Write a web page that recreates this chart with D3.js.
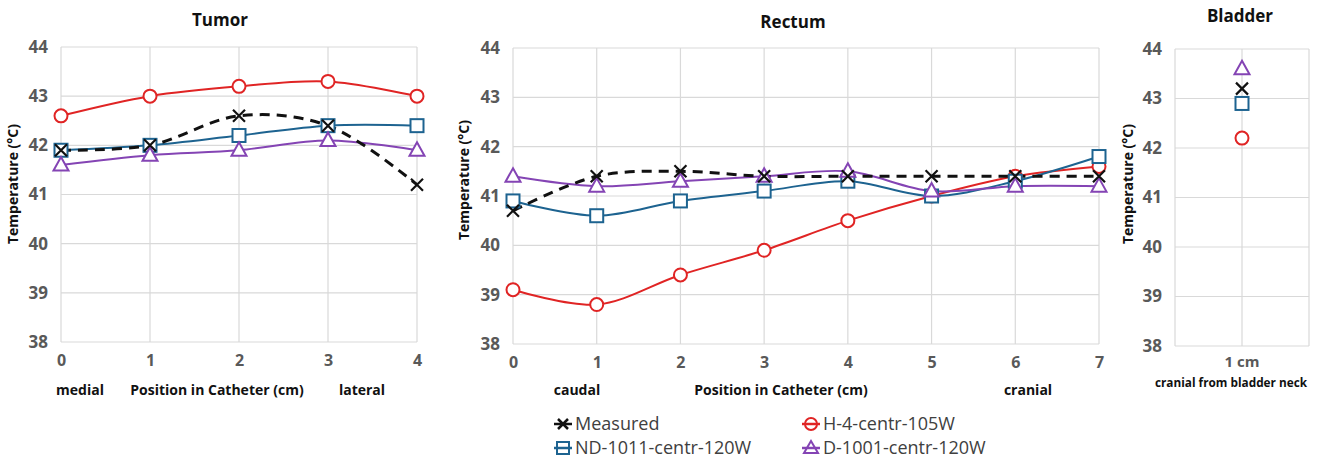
<!DOCTYPE html>
<html><head><meta charset="utf-8">
<script src="https://cdn.jsdelivr.net/npm/d3@7"></script>
<style>
body{margin:0;background:#fff;}
text{font-family:"Open Sans","Noto Sans",sans-serif;}
</style></head><body>
<svg id="c" width="1319" height="459"></svg>
<script>
const yTicks=[38,39,40,41,42,43,44];
const tumorX=[0,1,2,3,4];
const tumorMeasured=[41.9,42.0,42.6,42.4,41.2];
const tumorH4=[42.6,43.0,43.2,43.3,43.0];
const tumorND=[41.9,42.0,42.2,42.4,42.4];
const tumorD=[41.6,41.8,41.9,42.1,41.9];
const rectumX=[0,1,2,3,4,5,6,7];
const rectumMeasured=[40.7,41.4,41.5,41.4,41.4,41.4,41.4,41.4];
const rectumH4=[39.1,38.8,39.4,39.9,40.5,41.0,41.4,41.6];
const rectumND=[40.9,40.6,40.9,41.1,41.3,41.0,41.3,41.8];
const rectumD=[41.4,41.2,41.3,41.4,41.5,41.1,41.2,41.2];
const bladderCat=["1 cm"];
const bladderMeasured=[43.2];
const bladderH4=[42.2];
const bladderND=[42.9];
const bladderD=[43.6];
const seriesNames=["Measured","H-4-centr-105W","ND-1011-centr-120W","D-1001-centr-120W"];

const COL={m:"#111111",h:"#e02424",n:"#1d6390",d:"#8444b4"};
const svg=d3.select("#c");
const grid="#d9d9d9", tickCol="#595959";

function marker(g,type,x,y,col){
  if(type==="m"){
    const s=6;
    g.append("path").attr("d",`M${x-s},${y-s}L${x+s},${y+s}M${x-s},${y+s}L${x+s},${y-s}`)
      .attr("stroke",col).attr("stroke-width",2.2).attr("fill","none");
  } else if(type==="h"){
    g.append("circle").attr("cx",x).attr("cy",y).attr("r",6.5).attr("fill","#fff").attr("stroke",col).attr("stroke-width",2);
  } else if(type==="n"){
    g.append("rect").attr("x",x-6.5).attr("y",y-6.5).attr("width",13).attr("height",13).attr("fill","#fff").attr("stroke",col).attr("stroke-width",2);
  } else {
    g.append("path").attr("d",`M${x},${y-8}L${x+7.5},${y+5.5}L${x-7.5},${y+5.5}Z`).attr("fill","#fff").attr("stroke",col).attr("stroke-width",2);
  }
}

function panel(o){
  const g=svg.append("g");
  const y=d3.scaleLinear().domain([38,44]).range([o.b,o.t]);
  yTicks.forEach(v=>g.append("line").attr("x1",o.l).attr("x2",o.r).attr("y1",y(v)).attr("y2",y(v)).attr("stroke",grid).attr("stroke-width",1.2));
  o.vgrid.forEach(v=>g.append("line").attr("x1",v).attr("x2",v).attr("y1",o.t).attr("y2",o.b).attr("stroke",grid).attr("stroke-width",1.2));
  const ya=g.append("g").attr("transform",`translate(${o.l},0)`).call(d3.axisLeft(y).tickValues(yTicks).tickFormat(d3.format("d")).tickSize(0).tickPadding(o.pad));
  ya.select(".domain").remove();
  ya.selectAll("text").attr("fill",tickCol).style("font-size","17px").style("font-weight","bold");
  g.append("text").attr("transform",`translate(${o.ylx},${o.ylc}) rotate(-90)`).attr("text-anchor","middle")
    .style("font-size","14px").style("font-weight","bold").attr("fill","#111").text("Temperature  (°C)");
  g.append("text").attr("x",o.tx).attr("y",o.ty).attr("text-anchor","middle").style("font-size","17px").style("font-weight","bold").attr("fill","#111").text(o.title);
  return {g,y};
}

function drawSeries(p,xs,xScale,vals,type,dashed){
  const line=d3.line().x((d,i)=>xScale(xs[i])).y(d=>p.y(d)).curve(d3.curveCatmullRom.alpha(0.5));
  p.g.append("path").datum(vals).attr("d",line).attr("fill","none").attr("stroke",COL[type])
    .attr("stroke-width",dashed?3:2).attr("stroke-dasharray",dashed?"10,7":null);
}
function drawMarkers(p,xs,xScale,vals,type){
  vals.forEach((v,i)=>marker(p.g,type,xScale(xs[i]),p.y(v),COL[type]));
}
function label(g,x,y,t,size){
  g.append("text").attr("x",x).attr("y",y).attr("text-anchor","middle").style("font-size",(size||14)+"px").style("font-weight","bold").attr("fill","#111").text(t);
}

// Tumor
const xT=d3.scaleLinear().domain([0,4]).range([61,417]);
const pT=panel({l:61,r:417,t:47,b:342,vgrid:tumorX.map(xT),pad:13,ylx:18,ylc:184,tx:220,ty:26,title:"Tumor"});
[["h",tumorH4],["n",tumorND],["d",tumorD]].forEach(([t,v])=>drawSeries(pT,tumorX,xT,v,t,false));
drawSeries(pT,tumorX,xT,tumorMeasured,"m",true);
[["h",tumorH4],["n",tumorND],["d",tumorD],["m",tumorMeasured]].forEach(([t,v])=>drawMarkers(pT,tumorX,xT,v,t));
const xaT=pT.g.append("g").attr("transform","translate(0,342)").call(d3.axisBottom(xT).tickValues(tumorX).tickFormat(d3.format("d")).tickSize(0).tickPadding(13));
xaT.select(".domain").remove();
xaT.selectAll("text").attr("fill",tickCol).style("font-size","16px").style("font-weight","bold");
label(pT.g,80,395,"medial");
label(pT.g,217,395,"Position in Catheter (cm)");
label(pT.g,362,395,"lateral");

// Rectum
const xR=d3.scaleLinear().domain([0,7]).range([513,1099]);
const pR=panel({l:513,r:1099,t:48,b:344,vgrid:rectumX.map(xR),pad:13,ylx:469,ylc:180,tx:793,ty:28,title:"Rectum"});
[["h",rectumH4],["n",rectumND],["d",rectumD]].forEach(([t,v])=>drawSeries(pR,rectumX,xR,v,t,false));
drawSeries(pR,rectumX,xR,rectumMeasured,"m",true);
[["h",rectumH4],["n",rectumND],["d",rectumD],["m",rectumMeasured]].forEach(([t,v])=>drawMarkers(pR,rectumX,xR,v,t));
const xaR=pR.g.append("g").attr("transform","translate(0,344)").call(d3.axisBottom(xR).tickValues(rectumX).tickFormat(d3.format("d")).tickSize(0).tickPadding(13));
xaR.select(".domain").remove();
xaR.selectAll("text").attr("fill",tickCol).style("font-size","16px").style("font-weight","bold");
label(pR.g,577,395,"caudal");
label(pR.g,781,395,"Position in Catheter (cm)");
label(pR.g,1028,395,"cranial");

// Bladder
const xB=d3.scaleBand().domain(bladderCat).range([1175,1309]);
const xBc=c=>xB(c)+xB.bandwidth()/2;
const pB=panel({l:1175,r:1309,t:49,b:346,vgrid:[1175,xBc(bladderCat[0]),1309],pad:13,ylx:1133,ylc:184,tx:1240,ty:22,title:"Bladder"});
[["h",bladderH4],["n",bladderND],["d",bladderD],["m",bladderMeasured]].forEach(([t,v])=>v.forEach((d,i)=>marker(pB.g,t,xBc(bladderCat[i]),pB.y(d),COL[t])));
const xaB=pB.g.append("g").attr("transform","translate(0,346)").call(d3.axisBottom(xB).tickSize(0).tickPadding(10));
xaB.select(".domain").remove();
xaB.selectAll("text").attr("fill",tickCol).style("font-size","15px").style("font-weight","bold");
label(pB.g,1231,387,"cranial from bladder neck",11.8);

// Legend
const leg=svg.append("g");
const legItems=[["m",563,424],["h",811,424],["n",563,448],["d",811,448]];
legItems.forEach(([t,x,yy],i)=>{
  leg.append("line").attr("x1",x-9).attr("x2",x+9).attr("y1",yy).attr("y2",yy).attr("stroke",COL[t]).attr("stroke-width",2.5);
  if(t==="m"){
    const s=5;leg.append("path").attr("d",`M${x-s},${yy-s}L${x+s},${yy+s}M${x-s},${yy+s}L${x+s},${yy-s}`).attr("stroke",COL[t]).attr("stroke-width",2.5);
  } else if(t==="h"){
    leg.append("circle").attr("cx",x).attr("cy",yy).attr("r",6).attr("fill","none").attr("stroke",COL[t]).attr("stroke-width",2);
  } else if(t==="n"){
    leg.append("rect").attr("x",x-6).attr("y",yy-6).attr("width",12).attr("height",12).attr("fill","none").attr("stroke",COL[t]).attr("stroke-width",2);
  } else {
    leg.append("path").attr("d",`M${x},${yy-7}L${x+7},${yy+5}L${x-7},${yy+5}Z`).attr("fill","none").attr("stroke",COL[t]).attr("stroke-width",2);
  }
  leg.append("text").attr("x",x+12).attr("y",yy+6).style("font-size","18px").attr("fill","#404040").text(seriesNames[i]);
});
</script></body></html>
